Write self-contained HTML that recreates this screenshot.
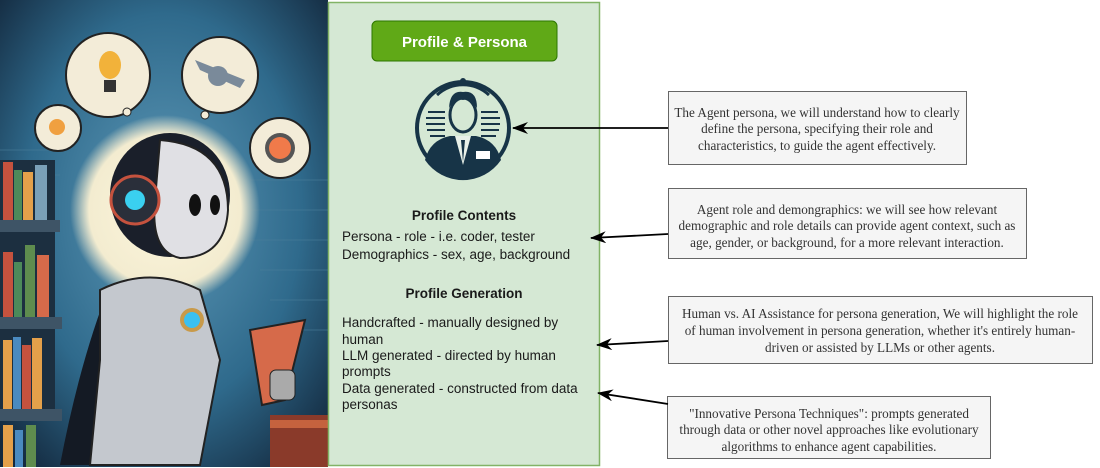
<!DOCTYPE html>
<html><head><meta charset="utf-8"><style>
html,body{margin:0;padding:0;background:#fff;}
svg{display:block;}
.s{font-family:"Liberation Sans",sans-serif;font-size:13.5px;fill:#1a1a1a;}
.r{font-family:"Liberation Serif",serif;font-size:13.2px;fill:#333;}
</style></head><body>
<svg width="1100" height="468" viewBox="0 0 1100 468" xmlns="http://www.w3.org/2000/svg">
<defs>
<radialGradient id="bg" cx="0.5" cy="0.45" r="0.7">
<stop offset="0" stop-color="#5f9ab8"/><stop offset="0.6" stop-color="#2f6a8c"/><stop offset="1" stop-color="#13283d"/>
</radialGradient>
<radialGradient id="halo" cx="0.5" cy="0.5" r="0.5">
<stop offset="0" stop-color="#fdf6dc"/><stop offset="0.8" stop-color="#f3ecd0"/><stop offset="1" stop-color="#f3ecd0" stop-opacity="0"/>
</radialGradient>
<marker id="ar" viewBox="0 0 16 12" refX="15" refY="6" markerWidth="16" markerHeight="12" markerUnits="userSpaceOnUse" orient="auto">
<path d="M16,6 L0,0 L5,6 L0,12 Z" fill="#000"/>
</marker>
</defs>
<rect x="0" y="0" width="328" height="467" fill="url(#bg)"/>
<g fill="none" stroke="#4a7d9a" stroke-width="1" opacity="0.6">
<path d="M0,150 H60 M0,175 H60 M250,180 H328 M250,210 H328 M250,240 H328 M260,270 H328 M270,300 H328 M280,330 H328"/>
</g>
<rect x="0" y="160" width="55" height="60" fill="#1c2f40"/>
<rect x="3" y="162" width="10" height="58" fill="#c5523e"/><rect x="14" y="170" width="8" height="50" fill="#4c8a5a"/><rect x="23" y="172" width="10" height="48" fill="#e4a04a"/><rect x="35" y="165" width="12" height="55" fill="#7aa0b8"/>
<rect x="0" y="220" width="60" height="12" fill="#3e5466"/>
<rect x="0" y="232" width="55" height="85" fill="#1c2f40"/>
<rect x="3" y="252" width="10" height="65" fill="#c5523e"/><rect x="14" y="262" width="8" height="55" fill="#4c8a5a"/><rect x="25" y="245" width="10" height="72" fill="#5e8c4e"/><rect x="37" y="255" width="12" height="62" fill="#d66a4a"/>
<rect x="0" y="317" width="62" height="12" fill="#3e5466"/>
<rect x="0" y="329" width="55" height="80" fill="#1c2f40"/>
<rect x="3" y="340" width="9" height="69" fill="#e4a04a"/><rect x="13" y="337" width="8" height="72" fill="#4a8ac0"/><rect x="22" y="345" width="9" height="64" fill="#c5523e"/><rect x="32" y="338" width="10" height="71" fill="#e4a04a"/>
<rect x="0" y="409" width="62" height="12" fill="#3e5466"/>
<rect x="3" y="425" width="10" height="42" fill="#e4a04a"/><rect x="15" y="430" width="8" height="37" fill="#4a8ac0"/><rect x="26" y="425" width="10" height="42" fill="#5e8c4e"/>
<circle cx="165" cy="210" r="95" fill="url(#halo)"/>
<circle cx="108" cy="75" r="42" fill="#f3ecd8" stroke="#222" stroke-width="2"/>
<circle cx="127" cy="112" r="4" fill="#f3ecd8" stroke="#222"/>
<ellipse cx="110" cy="65" rx="11" ry="14" fill="#f2b23a"/><rect x="104" y="80" width="12" height="12" fill="#333"/>
<circle cx="220" cy="75" r="38" fill="#f3ecd8" stroke="#222" stroke-width="2"/>
<circle cx="205" cy="115" r="4" fill="#f3ecd8" stroke="#222"/>
<path d="M195,60 L245,80 L240,88 L200,70 Z" fill="#7a8a9a"/><circle cx="218" cy="76" r="10" fill="#7a8a9a"/>
<circle cx="58" cy="128" r="23" fill="#f3ecd8" stroke="#222" stroke-width="2"/>
<circle cx="57" cy="127" r="8" fill="#f0a040"/>
<circle cx="280" cy="148" r="30" fill="#f3ecd8" stroke="#222" stroke-width="2"/>
<circle cx="280" cy="148" r="15" fill="#555"/><circle cx="280" cy="148" r="11" fill="#f07a4a"/>
<path d="M110,285 Q80,360 60,465 L175,465 L150,290 Z" fill="#141a24"/>
<path d="M100,290 Q150,265 200,290 L220,360 L200,465 L90,465 L100,360 Z" fill="#c4c8ce" stroke="#222" stroke-width="2"/>
<circle cx="192" cy="320" r="12" fill="#c89a4a"/><circle cx="192" cy="320" r="8" fill="#3ac0f0"/>
<ellipse cx="170" cy="195" rx="60" ry="62" fill="#1a1f2a"/>
<path d="M160,140 Q228,145 228,210 Q225,258 180,258 Q150,252 155,200 Z" fill="#e0e0e4" stroke="#222" stroke-width="2"/>
<ellipse cx="195" cy="205" rx="6" ry="11" fill="#111"/><ellipse cx="215" cy="205" rx="5" ry="10" fill="#111"/>
<circle cx="135" cy="200" r="24" fill="#2a2f3a" stroke="#c5523e" stroke-width="3"/>
<circle cx="135" cy="200" r="10" fill="#3ad0f0"/>
<path d="M250,330 L305,320 L285,400 L262,405 Z" fill="#d66a4a" stroke="#222" stroke-width="2"/>
<rect x="270" y="370" width="25" height="30" rx="6" fill="#aaa" stroke="#222"/>
<rect x="270" y="415" width="58" height="52" fill="#8a3a2a"/><rect x="270" y="420" width="58" height="8" fill="#c5623e"/>
<rect x="328.5" y="2.5" width="271" height="463" fill="#d5e8d4" stroke="#82b366" stroke-width="1.5"/>
<rect x="372" y="21" width="185" height="40" rx="5" fill="#60a917" stroke="#2d7600" stroke-width="1"/>
<text x="464.5" y="47" text-anchor="middle" style="font-family:'Liberation Sans',sans-serif;font-size:15px;font-weight:bold;fill:#fff;">Profile &amp; Persona</text>
<g>
<circle cx="463" cy="128" r="46" fill="none" stroke="#173447" stroke-width="4"/>
<circle cx="463" cy="81" r="3" fill="#173447"/>
<path d="M437,95 A38,38 0 0 1 489,95" fill="none" stroke="#173447" stroke-width="3"/>
<g stroke="#173447" stroke-width="2"><path d="M428,112 H445 M426,118 H445 M426,124 H445 M427,130 H445 M430,136 H445 M481,112 H498 M481,118 H500 M481,124 H500 M481,130 H499 M481,136 H496"/></g>
<path d="M425,160 Q430,140 450,136 L476,136 Q496,140 501,160 A46,46 0 0 1 425,160 Z" fill="#173447"/>
<path d="M455,136 L463,165 L471,136 Z" fill="#e8f0e8"/><path d="M461,140 L463,162 L465,140 Z" fill="#173447"/>
<ellipse cx="463" cy="115" rx="13" ry="17" fill="#d5e8d4" stroke="#173447" stroke-width="3"/>
<path d="M449,108 Q450,90 463,92 Q477,90 477,108 Q470,98 463,100 Q455,98 449,108 Z" fill="#173447"/>
<rect x="476" y="151" width="14" height="8" fill="#fff"/>
</g>
<text x="464" y="220" text-anchor="middle" class="s" style="font-weight:bold">Profile Contents</text>
<text x="342" y="241" class="s">Persona - role - i.e. coder, tester</text>
<text x="342" y="259" class="s">Demographics - sex, age, background</text>
<text x="464" y="298" text-anchor="middle" class="s" style="font-weight:bold">Profile Generation</text>
<text x="342" y="327" class="s">Handcrafted - manually designed by</text>
<text x="342" y="344" class="s">human</text>
<text x="342" y="360" class="s">LLM generated - directed by human</text>
<text x="342" y="376" class="s">prompts</text>
<text x="342" y="393" class="s">Data generated - constructed from data</text>
<text x="342" y="409" class="s">personas</text>
<rect x="668.5" y="91.5" width="298" height="73" fill="#f5f5f5" stroke="#666" stroke-width="1"/>
<text x="817" y="117" text-anchor="middle" class="r">The Agent persona, we will understand how to clearly</text>
<text x="817" y="133" text-anchor="middle" class="r">define the persona, specifying their role and</text>
<text x="817" y="150" text-anchor="middle" class="r">characteristics, to guide the agent effectively.</text>
<rect x="668.5" y="188.5" width="358" height="70" fill="#f5f5f5" stroke="#666" stroke-width="1"/>
<text x="847" y="214" text-anchor="middle" class="r">Agent role and demongraphics: we will see how relevant</text>
<text x="847" y="230" text-anchor="middle" class="r">demographic and role details can provide agent context, such as</text>
<text x="847" y="247" text-anchor="middle" class="r">age, gender, or background, for a more relevant interaction.</text>
<rect x="668.5" y="296.5" width="424" height="67" fill="#f5f5f5" stroke="#666" stroke-width="1"/>
<text x="880" y="318" text-anchor="middle" class="r">Human vs. AI Assistance for persona generation, We will highlight the role</text>
<text x="880" y="335" text-anchor="middle" class="r">of human involvement in persona generation, whether it's entirely human-</text>
<text x="880" y="352" text-anchor="middle" class="r">driven or assisted by LLMs or other agents.</text>
<rect x="667.5" y="396.5" width="323" height="62" fill="#f5f5f5" stroke="#666" stroke-width="1"/>
<text x="829" y="418" text-anchor="middle" class="r">"Innovative Persona Techniques": prompts generated</text>
<text x="829" y="434" text-anchor="middle" class="r">through data or other novel approaches like evolutionary</text>
<text x="829" y="451" text-anchor="middle" class="r">algorithms to enhance agent capabilities.</text>
<g stroke="#000" stroke-width="1.8" fill="none">
<line x1="668" y1="128" x2="513" y2="128" marker-end="url(#ar)"/>
<line x1="668" y1="234" x2="591" y2="238" marker-end="url(#ar)"/>
<line x1="668" y1="341" x2="597" y2="345" marker-end="url(#ar)"/>
<line x1="668" y1="404" x2="598" y2="393" marker-end="url(#ar)"/>
</g>
</svg>
</body></html>
